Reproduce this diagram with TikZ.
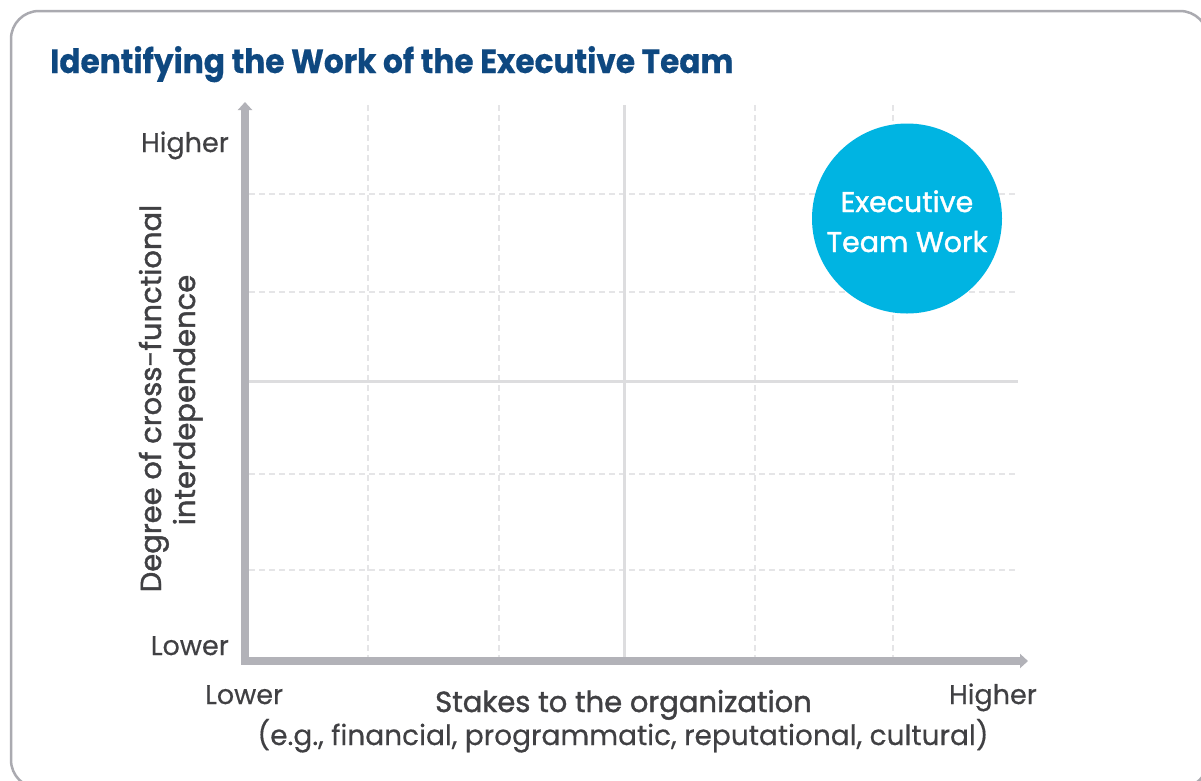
\documentclass[tikz,border=0pt]{standalone}
\usepackage{fontspec}
\setmainfont{Poppins}[FakeBold=0.4]
\newfontfamily\medfont[FakeBold=1.4]{Poppins}
\newfontfamily\boldfont{Poppins Bold}
\usetikzlibrary{arrows.meta}
\definecolor{titleblue}{RGB}{14,72,128}
\definecolor{txtgray}{RGB}{64,64,67}
\definecolor{axisgray}{RGB}{178,178,184}
\definecolor{bordergray}{RGB}{170,170,176}
\definecolor{gridsolid}{RGB}{221,221,223}
\definecolor{griddash}{RGB}{229,229,231}
\definecolor{bubble}{RGB}{0,180,226}
\tikzset{
  axisline/.style={axisgray, line width=7.5pt, -{Triangle[width=14pt,length=8pt]}},
  gridmain/.style={gridsolid, line width=3pt},
  gridminor/.style={griddash, line width=1.3pt, dash pattern=on 6pt off 4pt},
  ticklabel/.style={inner sep=0pt, text=txtgray, font=\fontsize{27}{30}\selectfont},
  axistitle/.style={inner sep=0pt, text=txtgray, font=\medfont\fontsize{29}{32}\selectfont},
  subtitle/.style={inner sep=0pt, text=txtgray, font=\fontsize{28}{30}\selectfont},
  bubbletext/.style={inner sep=0pt, text=white, font=\medfont\fontsize{28.5}{30}\selectfont},
}
\begin{document}
\begin{tikzpicture}[x=1pt,y=-1pt]
\useasboundingbox (0,0) rectangle (1201,780);
\fill[white] (0,0) rectangle (1201,780);
% frame
\draw[bordergray, line width=2.5pt, rounded corners=28pt] (11,11) rectangle (1208,788);
% title
\node[inner sep=0pt, anchor=base west, text=titleblue, font=\bfseries\fontsize{33}{36}\selectfont] (title) at (50,73) {\scalebox{0.945}[1.02]{Identifying the Work of the Executive Team}};
% grid
\coordinate (O) at (245,661);
\coordinate (ytip) at (245,102);
\coordinate (xtip) at (1028,661);
\foreach \x in {368,499,755,893} {\draw[gridminor] (\x,105) -- (\x,657);}
\foreach \y in {194,292,474,570} {\draw[gridminor] (249,\y) -- (1018,\y);}
\draw[gridmain] (624,105) -- (624,657);
\draw[gridmain] (249,381) -- (1018,381);
% axes
\draw[axisline] ([yshift=3.75pt]O) -- (ytip);
\draw[axisline] ([xshift=-3.75pt]O) -- (xtip);
% bubble
\node[circle, fill=bubble, minimum size=190pt, inner sep=0pt] (etw) at (907,218.5) {};
\node[bubbletext, anchor=base] (etw1) at (907,212) {Executive};
\node[bubbletext, anchor=base] (etw2) at (907,252) {Team Work};
% y labels
\node[ticklabel, anchor=base east] (yhigh) at (229,152) {Higher};
\node[ticklabel, anchor=base east] (ylow) at (229,655) {Lower};
\node[axistitle, rotate=90, anchor=base] (ytitle1) at (161,398.5) {Degree of cross-functional};
\node[axistitle, rotate=90, anchor=base] (ytitle2) at (195,400) {interdependence};
% x labels
\node[ticklabel, anchor=base west] (xlow) at (205,704) {Lower};
\node[ticklabel, anchor=base east] (xhigh) at (1037,704) {Higher};
\node[axistitle, anchor=base] (xtitle) at (623.5,712) {Stakes to the organization};
\node[subtitle, anchor=base] (xsub) at (623,745) {(e.g., financial, programmatic, reputational, cultural)};
\end{tikzpicture}
\end{document}
